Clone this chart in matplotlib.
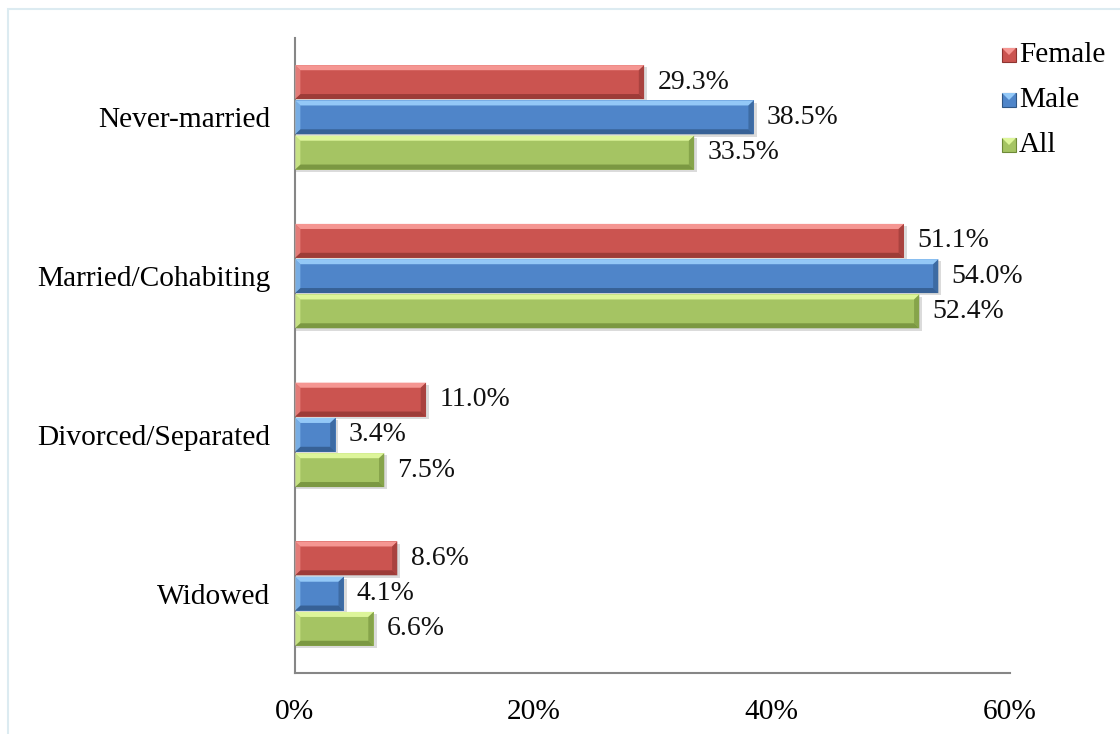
import matplotlib
matplotlib.use("Agg")
import matplotlib.pyplot as plt
from matplotlib.patches import Polygon, Rectangle
from matplotlib.ticker import FuncFormatter
import numpy as np

plt.rcParams['font.family'] = ['Liberation Serif', 'DejaVu Serif']

categories = ['Never-married', 'Married/Cohabiting', 'Divorced/Separated', 'Widowed']
series = ['Female', 'Male', 'All']
female = [29.3, 51.1, 11.0, 8.6]
male = [38.5, 54.0, 3.4, 4.1]
all_ = [33.5, 52.4, 7.5, 6.6]
xticks = [0, 20, 40, 60]

# base, light top edge, dark bottom edge
colors = {
    'Female': ('#CB5450', '#F59692', '#8E3431'),
    'Male': ('#4F85C9', '#93C8F7', '#2F5685'),
    'All': ('#A5C463', '#DDF59A', '#6E8A37'),
}

fig = plt.figure(figsize=(11.2, 7.34), dpi=100)
# thin light frame round the chart area
fig.patches.append(Rectangle((8 / 1120, -0.1), 1.2, 1 - 9 / 734 + 0.1,
                             transform=fig.transFigure, fill=False,
                             edgecolor='#DCEBF1', linewidth=1.5))
ax = fig.add_axes([295 / 1120, 61 / 734, 715 / 1120, 635 / 734])

h = 0.222
offsets = [-h, 0, h]
data = [female, male, all_]
bw_x = 0.45   # bevel width in % units
bw_y = 0.032  # bevel height in category units

for k, (name, vals) in enumerate(zip(series, data)):
    base, light, dark = colors[name]
    for i, v in enumerate(vals):
        yc = i + offsets[k]
        y0, y1 = yc - h / 2 + 0.004, yc + h / 2 - 0.004
        # soft shadow
        ax.add_patch(Rectangle((0, y0 + 0.014), v + 0.25, y1 - y0,
                               facecolor='#000000', alpha=0.14, edgecolor='none', zorder=1))
        ax.barh(yc, v, height=y1 - y0, color=base, edgecolor='none', zorder=2)
        # bevel: top highlight, bottom shade, right end shade
        ax.add_patch(Polygon([(0, y0), (v, y0), (v - bw_x, y0 + bw_y), (bw_x, y0 + bw_y)],
                             facecolor=light, edgecolor='none', zorder=3))
        ax.add_patch(Polygon([(0, y1), (v, y1), (v - bw_x, y1 - bw_y), (bw_x, y1 - bw_y)],
                             facecolor=dark, edgecolor='none', alpha=0.75, zorder=3))
        ax.add_patch(Polygon([(v, y0), (v, y1), (v - bw_x, y1 - bw_y), (v - bw_x, y0 + bw_y)],
                             facecolor=dark, edgecolor='none', alpha=0.55, zorder=3))
        ax.add_patch(Polygon([(0, y0), (0, y1), (bw_x, y1 - bw_y), (bw_x, y0 + bw_y)],
                             facecolor=light, edgecolor='none', alpha=0.6, zorder=3))
        ax.text(v + 1.1, yc, '%.1f%%' % v, va='center', ha='left', fontsize=20, color='#111111')

ax.set_xlim(0, 60)
ax.set_ylim(3.5, -0.5)
ax.set_xticks(xticks)
ax.xaxis.set_major_formatter(FuncFormatter(lambda x, p: '%d%%' % x))
ax.set_yticks(range(len(categories)))
ax.set_yticklabels(categories)
ax.tick_params(axis='both', length=0, labelsize=21.2, colors='#000000')
ax.tick_params(axis='y', pad=18)
ax.tick_params(axis='x', pad=19)
for s in ['top', 'right']:
    ax.spines[s].set_visible(False)
for s in ['left', 'bottom']:
    ax.spines[s].set_color('#868686')
    ax.spines[s].set_linewidth(1.5)

# legend with bevelled squares
for k, name in enumerate(series):
    base, light, dark = colors[name]
    yy = 1 - (55 + 45 * k) / 734
    x0 = 1002 / 1120
    sw, sh = 14 / 1120, 14 / 734
    fig.patches.append(Rectangle((x0, yy - sh / 2), sw, sh, transform=fig.transFigure,
                                 facecolor=base, edgecolor=dark, linewidth=0.8))
    fig.patches.append(Polygon([(x0, yy + sh / 2), (x0 + sw, yy + sh / 2), (x0 + sw / 2, yy)],
                               transform=fig.transFigure, facecolor=light, edgecolor='none'))
    fig.text(x0 + sw + 3 / 1120, yy, name, va='center', ha='left', fontsize=21.2, color='#000000')

fig.savefig('out.png', dpi=100)
